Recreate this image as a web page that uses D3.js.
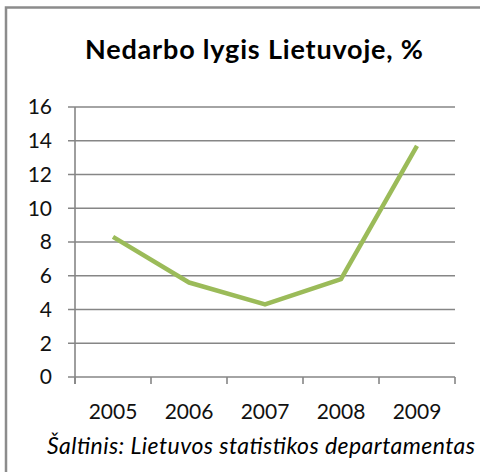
<!DOCTYPE html>
<html>
<head>
<meta charset="utf-8">
<script src="https://cdn.jsdelivr.net/npm/d3@7"></script>
<style>
  body { margin: 0; background: #fff; }
  svg { display: block; font-family: Lato, "Open Sans", sans-serif; }
</style>
</head>
<body>
<svg id="chart" width="480" height="472"></svg>
<script>
var years = ["2005", "2006", "2007", "2008", "2009"];
var unemployment = [8.3, 5.6, 4.3, 5.8, 13.7]; // nedarbo lygis, %
var yTicks = [0, 2, 4, 6, 8, 10, 12, 14, 16];
var titleText = "Nedarbo lygis Lietuvoje, %";
var sourceText = "Šaltinis: Lietuvos statistikos departamentas";

var svgWidth = 480, svgHeight = 472;
var plotLeft = 75, plotRight = 455, plotTop = 107, plotBottom = 377;
var gridColor = "#868686";
var lineColor = "#9bbb59";

var svg = d3.select("#chart");

// chart frame (left and top edge are visible)
svg.append("path")
  .attr("d", "M6," + (svgHeight + 5) + " L6,7.5 L" + (svgWidth + 5) + ",7.5")
  .attr("fill", "none")
  .attr("stroke", "#8c8c8c")
  .attr("stroke-width", 2.5);

var x = d3.scaleBand().domain(years).range([plotLeft, plotRight]);
var y = d3.scaleLinear().domain([0, 16]).range([plotBottom, plotTop]);

// gridlines
svg.append("g")
  .selectAll("line")
  .data(yTicks)
  .enter()
  .append("line")
  .attr("x1", plotLeft - 7)
  .attr("x2", plotRight)
  .attr("y1", function(d){ return y(d); })
  .attr("y2", function(d){ return y(d); })
  .attr("stroke", gridColor)
  .attr("stroke-width", 1.6);

// y axis line
svg.append("line")
  .attr("x1", plotLeft).attr("x2", plotLeft)
  .attr("y1", plotTop).attr("y2", plotBottom + 7)
  .attr("stroke", gridColor)
  .attr("stroke-width", 1.6);

// x ticks at category boundaries
var boundaries = years.map(function(d){ return x(d); }).concat([plotRight]);
svg.append("g")
  .selectAll("line")
  .data(boundaries)
  .enter()
  .append("line")
  .attr("x1", function(d){ return d; })
  .attr("x2", function(d){ return d; })
  .attr("y1", plotBottom)
  .attr("y2", plotBottom + 7)
  .attr("stroke", gridColor)
  .attr("stroke-width", 1.6);

// y labels
svg.append("g")
  .selectAll("text")
  .data(yTicks)
  .enter()
  .append("text")
  .attr("x", 52)
  .attr("y", function(d){ return y(d); })
  .attr("dy", "0.35em")
  .attr("text-anchor", "end")
  .attr("font-size", 21)
  .attr("fill", "#111")
  .text(function(d){ return d; });

// x labels
svg.append("g")
  .selectAll("text")
  .data(years)
  .enter()
  .append("text")
  .attr("x", function(d){ return x(d) + x.bandwidth() / 2; })
  .attr("y", 412)
  .attr("dy", "0.35em")
  .attr("text-anchor", "middle")
  .attr("font-size", 21)
  .attr("fill", "#111")
  .text(function(d){ return d; });

// data line
var line = d3.line()
  .x(function(d, i){ return x(years[i]) + x.bandwidth() / 2; })
  .y(function(d){ return y(d); });

svg.append("path")
  .datum(unemployment)
  .attr("d", line)
  .attr("fill", "none")
  .attr("stroke", lineColor)
  .attr("stroke-width", 4.5)
  .attr("stroke-linejoin", "round");

// title
svg.append("text")
  .attr("x", 85)
  .attr("y", 50)
  .attr("dy", "0.35em")
  .attr("font-size", 27)
  .attr("font-weight", "bold")
  .attr("fill", "#000")
  .attr("textLength", 338)
  .attr("lengthAdjust", "spacing")
  .text(titleText);

// source
svg.append("text")
  .attr("x", 47)
  .attr("y", 446)
  .attr("dy", "0.35em")
  .attr("font-size", 23)
  .attr("font-style", "italic")
  .attr("fill", "#000")
  .attr("textLength", 428)
  .attr("lengthAdjust", "spacing")
  .text(sourceText);
</script>
</body>
</html>
